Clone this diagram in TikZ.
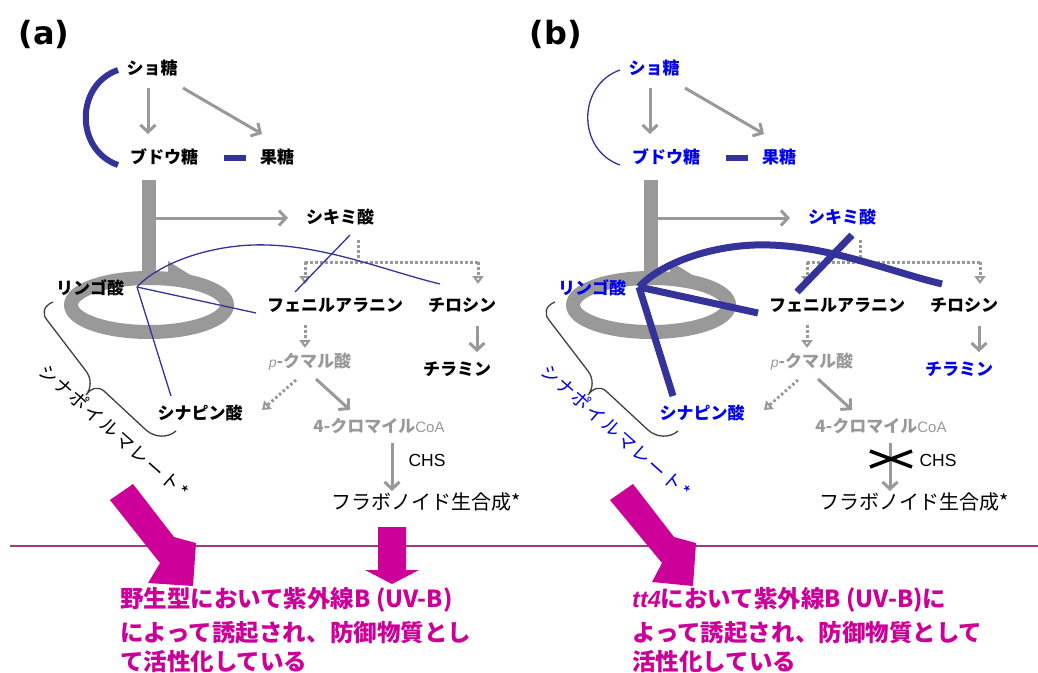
\documentclass[tikz,border=0pt]{standalone}
\usepackage{fontspec}
\setmainfont{Noto Sans CJK JP}
\newfontfamily\lat{Liberation Sans}
\newfontfamily\dvs{DejaVu Sans}
\newfontfamily\jpsp{Noto Sans CJK JP}[LetterSpace=10]
\usetikzlibrary{arrows.meta,calc}
\pgfdeclarelayer{background}
\pgfsetlayers{background,main}
\definecolor{gr}{HTML}{999999}
\definecolor{dblue}{HTML}{333399}
\definecolor{tblue}{HTML}{0000EE}
\definecolor{mag}{HTML}{CC0099}
\definecolor{hlin}{HTML}{A33A7A}
\tikzset{
  lab/.style={font=\bfseries\fontsize{17}{17}\selectfont, inner sep=1pt},
  glab/.style={lab, text=gr},
  flab/.style={font=\fontsize{20}{20}\selectfont, inner sep=1pt},
  chslab/.style={font=\lat\fontsize{17.5}{17.5}\selectfont, inner sep=1pt},
  smlab/.style={font=\jpsp\fontsize{18.5}{18.5}\selectfont, inner sep=0pt},
  plab/.style={font=\dvs\bfseries\fontsize{32}{32}\selectfont, inner sep=0pt},
  mtext/.style={font=\bfseries\fontsize{23.5}{23.5}\selectfont, text=mag, inner sep=0pt, anchor=base west},
  garr/.style={draw=gr, line width=3pt, -{Straight Barb[length=7pt,width=15pt]}},
  gdot/.style={draw=gr, line width=3pt, dash pattern=on 2.5pt off 2.5pt},
  gdarr/.style={gdot, -{Triangle[open,length=8pt,width=11pt,line width=2pt]}},
  brace/.style={draw=black!75, line width=1.3pt},
  magarrow/.style={fill=mag, draw=none}
}
\newcommand\mypanel[3]{%
  \node[lab,vb] (suc) at (152,68) {ショ糖};
  \node[lab,vb] (glu) at (164,157) {ブドウ糖};
  \node[lab,vb] (fru) at (277,157) {果糖};
  \node[lab,vb] (shik) at (340,217) {シキミ酸};
  \node[lab,vb] (mal) at (90,288) {リンゴ酸};
  \node[lab] (phe) at (335,305) {フェニルアラニン};
  \node[lab] (tyr) at (462,305) {チロシン};
  \node[lab,vb] (tyrm) at (457,369) {チラミン};
  \node[glab] (coum) at (310,362) {{\lat\itshape\mdseries\fontsize{14}{14}\selectfont p}-クマル酸};
  \node[lab,vb] (sin) at (200,413) {シナピン酸};
  \node[glab] (cm) at (379,426) {4-クロマイル{\lat\mdseries\fontsize{15}{15}\selectfont CoA}};
  \node[chslab] (chs) at (#2,460) {CHS};
  \node[flab] (flav) at (#1,502) {フラボノイド生合成*};
  \node[smlab,vb,rotate=-41.5] (sm) at (114,431) {シナポイルマレート*};
  % gray skeleton
  \begin{pgfonlayer}{background}
    \fill[gr] ($(glu)+(-22,23)$) rectangle ($(glu)+(-8,118)$);
    \draw[gr, line width=14pt] ($(mal)+(59,17)$) ellipse [x radius=78pt, y radius=27pt];
    \fill[gr] ($(mal)+(78,-27)$) -- ($(mal)+(102,-12)$) -- ($(mal)+(78,-7)$) -- cycle;
  \end{pgfonlayer}
  \draw[garr] ($(suc)+(-4,20)$) -- ($(glu)+(-16,-23)$);
  \draw[garr] ($(suc)+(31,20)$) -- ($(fru)+(-15,-23)$);
  \draw[garr] ($(glu)+(-8,61)$) -- ($(shik)+(-52,1)$);
  \draw[gdot] ($(shik)+(18,23)$) -- ($(shik)+(18,45)$);
  \draw[gdot] ($(phe)+(-30,-43)$) -- ($(tyr)+(16,-43)$);
  \draw[gdarr] ($(phe)+(-30,-43)$) -- ($(phe)+(-30,-21)$);
  \draw[gdarr] ($(tyr)+(16,-43)$) -- ($(tyr)+(16,-21)$);
  \draw[garr] ($(tyr)+(15,21)$) -- ($(tyrm)+(20,-17)$);
  \draw[gdarr] ($(phe)+(-30,20)$) -- ($(coum)+(-5,-14)$);
  \draw[gdarr] ($(coum)+(-14,18)$) -- ($(sin)+(62,-3)$);
  \draw[garr] ($(coum)+(6,17)$) -- ($(cm)+(-29,-16)$);
  \draw[garr] ($(cm)+({#3-379},17)$) -- ($(flav)+({#3-#1},-11)$);
  % blue links
  \draw[barc] ($(suc)+(-34,2)$) .. controls (75,85) and (75,150) .. ($(glu)+(-46,8)$);
  \draw[draw=dblue, line width=6pt] ($(glu)+(60,1)$) -- ($(glu)+(82,1)$);
  \draw[bline] ($(mal)+(47,-1)$) .. controls (160,262) and (215,243) .. (268,245)
      .. controls (330,247) and (390,272) .. ($(tyr)+(-22,-21)$);
  \draw[bline] ($(mal)+(47,-1)$) -- ($(phe)+(-79,8)$);
  \draw[bline] ($(mal)+(47,-1)$) -- ($(sin)+(-29,-17)$);
  \draw[bline] ($(shik)+(10,18)$) -- ($(phe)+(-40,-13)$);
  % brace
  \draw[brace] (53,302) .. controls (43,306) and (42,314) .. (47,320) -- (86,371)
      .. controls (92,379) and (91,389) .. (86,395)
      .. controls (91,388) and (98,386) .. (104,391) -- (146,430)
      .. controls (155,438) and (168,438) .. (176,431);
}
\begin{document}
\begin{tikzpicture}[x=1pt,y=-1pt]
\useasboundingbox (0,0) rectangle (1038,672);
\node[plab] (la) at (44,34) {(a)};
\node[plab] (lb) at (556,34) {(b)};
\begin{scope}[name prefix=a-, vb/.style={}, bline/.style={draw=dblue,line width=1.3pt}, barc/.style={draw=dblue,line width=6pt}]
\mypanel{426}{427}{392}
\end{scope}
\begin{scope}[xshift=502pt, name prefix=b-, vb/.style={text=tblue}, bline/.style={draw=dblue,line width=7pt}, barc/.style={draw=dblue,line width=1.3pt}]
\mypanel{412}{436}{388}
\end{scope}
% CHS blocked in (b)
\draw[line width=3.5pt] ($(b-chs)+(-68,-9)$) -- ($(b-chs)+(-26,7)$);
\draw[line width=3.5pt] ($(b-chs)+(-68,7)$) -- ($(b-chs)+(-26,-9)$);
% separator
\draw[hlin, line width=1.5pt] (10,546) -- (1038,546);
% magenta arrows
\fill[magarrow] (110,500) -- (133,484) -- (174,537) -- (196,543) -- (193,586) -- (148,583) -- (160,563) -- cycle;
\fill[magarrow] (378,527) -- (406,527) -- (406,570) -- (419,570) -- (392,584) -- (365,570) -- (378,570) -- cycle;
\fill[magarrow] (610,500) -- (633,484) -- (674,537) -- (696,543) -- (693,586) -- (652,582) -- (662,563) -- cycle;
% texts
\node[mtext] (ta1) at (120,607) {野生型において紫外線B (UV-B)};
\node[mtext] (ta2) at (120,641) {によって誘起され、防御物質とし};
\node[mtext] (ta3) at (120,670) {て活性化している};
\node[mtext] (tb1) at (632,607) {{\lat\itshape tt4}において紫外線B (UV-B)に};
\node[mtext] (tb2) at (632,641) {よって誘起され、防御物質として};
\node[mtext] (tb3) at (632,670) {活性化している};
\end{tikzpicture}
\end{document}
